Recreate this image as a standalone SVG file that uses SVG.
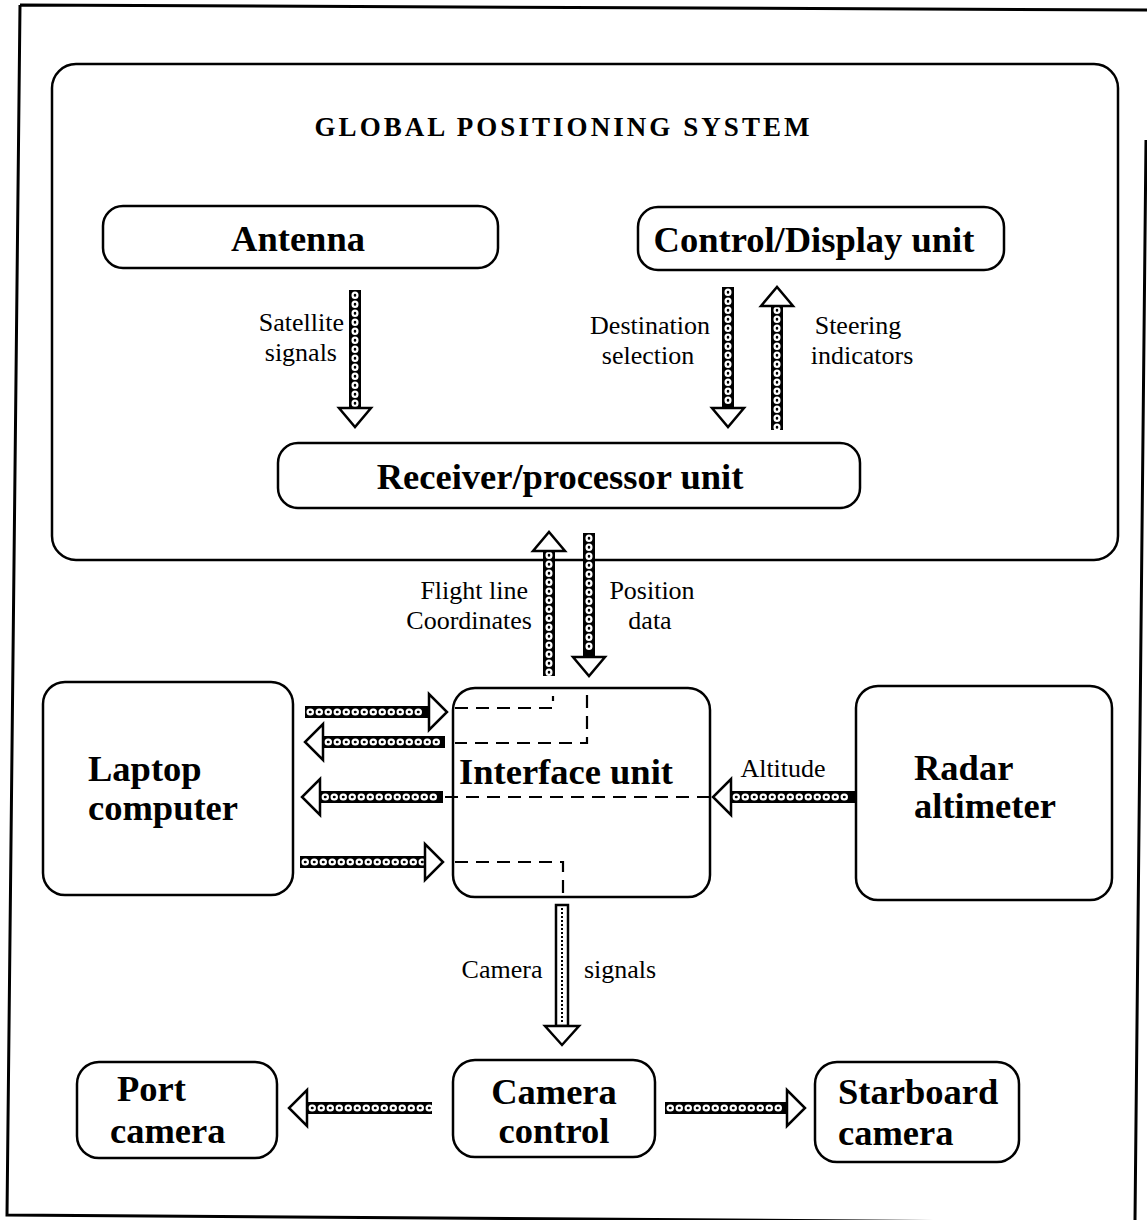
<svg xmlns="http://www.w3.org/2000/svg" width="1147" height="1220" viewBox="0 0 1147 1220">
<style>
.box{fill:#fff;stroke:#000;stroke-width:2.5}
.frame{fill:none;stroke:#000;stroke-width:3}
.big{font-family:"Liberation Serif","Times New Roman",serif;font-weight:bold;font-size:36.5px;fill:#000}
.title{font-family:"Liberation Serif","Times New Roman",serif;font-weight:bold;font-size:27px;fill:#000}
.lbl{font-family:"Liberation Serif","Times New Roman",serif;font-size:26px;fill:#000}
.shaft{fill:#000}
.head{fill:#fff;stroke:#000;stroke-width:2.5;stroke-linejoin:miter}
.chain{fill:none;stroke:#fff;stroke-width:7;stroke-linecap:round;stroke-dasharray:0.5 8.5}
.dot{fill:none;stroke:#000;stroke-width:2.5;stroke-linecap:round;stroke-dasharray:0.5 8.5}
.hollow{fill:#fff;stroke:#000;stroke-width:2.5}
.fine{fill:none;stroke:#000;stroke-width:2;stroke-dasharray:2 2}
.dash{fill:none;stroke:#000;stroke-width:2.2;stroke-dasharray:13 8}
</style>

<g id="frame">
<path class="frame" d="M20,5 L1147,10 M20,5 L7,1215 L1147,1223 M1146,140 L1135,1220"/>
</g>

<g id="gps">
<rect class="box" x="52" y="64" width="1066" height="496" rx="24"/>
<text class="title" x="562" y="136" text-anchor="middle" textLength="495" lengthAdjust="spacing">GLOBAL POSITIONING SYSTEM</text>
</g>

<g id="antenna">
<rect class="box" x="103" y="206" width="395" height="62" rx="20"/>
<text class="big" x="298" y="251" text-anchor="middle">Antenna</text>
</g>

<g id="control-display">
<rect class="box" x="638" y="207" width="366" height="63" rx="20"/>
<text class="big" x="814" y="252" text-anchor="middle">Control/Display unit</text>
</g>

<g id="receiver">
<rect class="box" x="278" y="443" width="582" height="65" rx="20"/>
<text class="big" x="560" y="489" text-anchor="middle">Receiver/processor unit</text>
</g>

<g id="laptop">
<rect class="box" x="43" y="682" width="250" height="213" rx="22"/>
<text class="big" x="88" y="781">Laptop</text>
<text class="big" x="88" y="820">computer</text>
</g>

<g id="interface">
<rect class="box" x="453" y="688" width="257" height="209" rx="22"/>
<text class="big" x="566" y="784" text-anchor="middle">Interface unit</text>
</g>

<g id="radar">
<rect class="box" x="856" y="686" width="256" height="214" rx="22"/>
<text class="big" x="914" y="780">Radar</text>
<text class="big" x="914" y="818">altimeter</text>
</g>

<g id="camera-control">
<rect class="box" x="453" y="1060" width="202" height="97" rx="22"/>
<text class="big" x="554" y="1104" text-anchor="middle">Camera</text>
<text class="big" x="554" y="1143" text-anchor="middle">control</text>
</g>

<g id="port-camera">
<rect class="box" x="77" y="1062" width="200" height="96" rx="22"/>
<text class="big" x="117" y="1101">Port</text>
<text class="big" x="110" y="1143">camera</text>
</g>

<g id="starboard-camera">
<rect class="box" x="815" y="1062" width="204" height="100" rx="22"/>
<text class="big" x="838" y="1104">Starboard</text>
<text class="big" x="838" y="1145">camera</text>
</g>

<g id="connectors">
<!-- dashed internal paths of interface unit -->
<path class="dash" d="M455,708 H553 V696"/>
<path class="dash" d="M587,695 V743 H455"/>
<path class="dash" d="M445,797 H712"/>
<path class="dash" d="M455,862 H563 V897"/>

<!-- Satellite signals (down) -->
<g class="arrow">
<rect class="shaft" x="349" y="290" width="12" height="118"/>
<path class="chain" d="M355,295 V406"/><path class="dot" d="M355,295 V406"/>
<polygon class="head" points="339,408 371,408 355,427"/>
</g>
<!-- Destination selection (down) -->
<g class="arrow">
<rect class="shaft" x="722" y="287" width="12" height="121"/>
<path class="chain" d="M728,292 V406"/><path class="dot" d="M728,292 V406"/>
<polygon class="head" points="712,408 744,408 728,427"/>
</g>
<!-- Steering indicators (up) -->
<g class="arrow">
<rect class="shaft" x="771" y="306" width="12" height="124"/>
<path class="chain" d="M777,310 V428"/><path class="dot" d="M777,310 V428"/>
<polygon class="head" points="761,306 793,306 777,287"/>
</g>
<!-- Flight line coordinates (up) -->
<g class="arrow">
<rect class="shaft" x="543" y="551" width="12" height="125"/>
<path class="chain" d="M549,555 V674"/><path class="dot" d="M549,555 V674"/>
<polygon class="head" points="533,551 565,551 549,532"/>
</g>
<!-- Position data (down) -->
<g class="arrow">
<rect class="shaft" x="583" y="533" width="12" height="124"/>
<path class="chain" d="M589,538 V655"/><path class="dot" d="M589,538 V655"/>
<polygon class="head" points="573,657 605,657 589,676"/>
</g>
<!-- Camera signals (down) -->
<g class="arrow">
<rect class="hollow" x="556" y="905" width="12" height="121"/>
<path class="fine" d="M562,908 V1024"/>
<polygon class="head" points="545,1026 579,1026 562,1045"/>
</g>

<!-- Laptop <-> Interface -->
<g class="arrow">
<rect class="shaft" x="305" y="706" width="124" height="12"/>
<path class="chain" d="M310,712 H427"/><path class="dot" d="M310,712 H427"/>
<polygon class="head" points="429,694 429,730 447,712"/>
</g>
<g class="arrow">
<rect class="shaft" x="323" y="736" width="122" height="12"/>
<path class="chain" d="M328,742 H443"/><path class="dot" d="M328,742 H443"/>
<polygon class="head" points="323,724 323,760 305,742"/>
</g>
<g class="arrow">
<rect class="shaft" x="320" y="791" width="123" height="12"/>
<path class="chain" d="M325,797 H441"/><path class="dot" d="M325,797 H441"/>
<polygon class="head" points="320,779 320,815 302,797"/>
</g>
<g class="arrow">
<rect class="shaft" x="300" y="856" width="125" height="12"/>
<path class="chain" d="M305,862 H423"/><path class="dot" d="M305,862 H423"/>
<polygon class="head" points="425,844 425,880 443,862"/>
</g>
<!-- Altitude -->
<g class="arrow">
<rect class="shaft" x="731" y="791" width="124" height="12"/>
<path class="chain" d="M736,797 H853"/><path class="dot" d="M736,797 H853"/>
<polygon class="head" points="731,779 731,815 713,797"/>
</g>
<!-- Camera control -> Port -->
<g class="arrow">
<rect class="shaft" x="307" y="1102" width="125" height="12"/>
<path class="chain" d="M312,1108 H430"/><path class="dot" d="M312,1108 H430"/>
<polygon class="head" points="307,1090 307,1126 289,1108"/>
</g>
<!-- Camera control -> Starboard -->
<g class="arrow">
<rect class="shaft" x="665" y="1102" width="122" height="12"/>
<path class="chain" d="M670,1108 H785"/><path class="dot" d="M670,1108 H785"/>
<polygon class="head" points="787,1090 787,1126 805,1108"/>
</g>

<!-- labels -->
<text class="lbl" x="344" y="331" text-anchor="end">Satellite</text>
<text class="lbl" x="337" y="361" text-anchor="end">signals</text>
<text class="lbl" x="650" y="334" text-anchor="middle">Destination</text>
<text class="lbl" x="648" y="364" text-anchor="middle">selection</text>
<text class="lbl" x="858" y="334" text-anchor="middle">Steering</text>
<text class="lbl" x="862" y="364" text-anchor="middle">indicators</text>
<text class="lbl" x="528" y="599" text-anchor="end">Flight line</text>
<text class="lbl" x="532" y="629" text-anchor="end">Coordinates</text>
<text class="lbl" x="652" y="599" text-anchor="middle">Position</text>
<text class="lbl" x="650" y="629" text-anchor="middle">data</text>
<text class="lbl" x="783" y="777" text-anchor="middle">Altitude</text>
<text class="lbl" x="502" y="978" text-anchor="middle">Camera</text>
<text class="lbl" x="620" y="978" text-anchor="middle">signals</text>
</g>
</svg>
